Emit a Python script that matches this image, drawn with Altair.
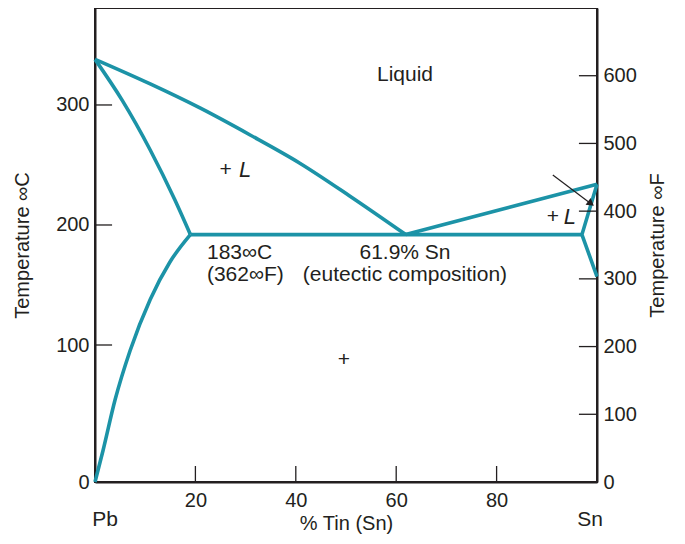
import altair as alt
import pandas as pd

TEAL = "#1c93a7"
INK = "#231f20"
FONT = "Liberation Sans"

# ---- phase boundary curves (x = % Sn, t = temperature in C) ----
liq_left_x = [0, 11.0, 20.9, 30.9, 40.8, 50.8, 61.9]
liq_left_t = [338, 317.5, 297.5, 275, 251.5, 224, 192]
sol_left_x = [0, 5.4, 11.0, 15.9, 19.0]
sol_left_t = [338, 304, 262.5, 221, 192]
solvus_left_x = [0, 1.6, 4.0, 7.0, 11.0, 14.9, 19.0]
solvus_left_t = [0, 23, 60, 96, 138, 169, 192]
eutectic_x = [19.0, 97.0]
eutectic_t = [192, 192]
liq_right_x = [61.9, 100]
liq_right_t = [192, 234]
sol_right_x = [100, 97.0, 100]
sol_right_t = [234, 192, 157]

curved = {
    "liq_left": (liq_left_x, liq_left_t),
    "sol_left": (sol_left_x, sol_left_t),
    "solvus_left": (solvus_left_x, solvus_left_t),
}
straight = {
    "eutectic": (eutectic_x, eutectic_t),
    "liq_right": (liq_right_x, liq_right_t),
    "sol_right": (sol_right_x, sol_right_t),
}

# ---- annotations ----
label_text = ["Liquid", "+", "183∞C", "(362∞F)", "61.9% Sn", "(eutectic composition)", "+", "+", "Pb", "Sn"]
label_x = [61.75, 26.0, 22.3, 22.3, 61.75, 61.75, 49.6, 91.2, 2.0, 98.6]
label_t = [325, 246, 177, 158, 177, 158, 89, 207, -27.5, -27.5]
label_align = ["center", "center", "left", "left", "center", "center", "center", "center", "center", "center"]

italic_text = ["L", "L"]
italic_x = [29.9, 94.6]
italic_t = [246, 207]

arrow_x = [91.2, 98.6]
arrow_t = [241.7, 218.3]
arrow_head_x = [98.8]
arrow_head_t = [217.8]

# axis tick values
x_ticks = [20, 40, 60, 80]
c_ticks = [0, 100, 200, 300]
f_ticks = [0, 100, 200, 300, 400, 500, 600]


def to_df(d):
    rows = []
    for name, (xs, ts) in d.items():
        for i, (xv, tv) in enumerate(zip(xs, ts)):
            rows.append({"seg": name, "x": xv, "t": tv, "o": i})
    return pd.DataFrame(rows)


curved_df = to_df(curved)
straight_df = to_df(straight)

lab_df = pd.DataFrame({"text": label_text, "x": label_x, "t": label_t, "align": label_align})
ital_df = pd.DataFrame({"text": italic_text, "x": italic_x, "t": italic_t})
arrow_df = pd.DataFrame({"x": arrow_x, "t": arrow_t, "o": [0, 1]})
head_df = pd.DataFrame({"x": arrow_head_x, "t": arrow_head_t})

xscale = alt.Scale(domain=[0, 100], nice=False, zero=False)
yscale = alt.Scale(domain=[0, 100, 380.8], range=[474, 337, 0], nice=False, zero=False)
fscale = alt.Scale(domain=[0, 700], nice=False, zero=False)

x_axis = alt.Axis(values=x_ticks, ticks=False, grid=False, labelPadding=8,
                  title="% Tin (Sn)", titlePadding=3)
y_axis = alt.Axis(values=c_ticks, ticks=False, grid=False, labelPadding=6,
                  title="Temperature ∞C", titlePadding=23)
f_axis = alt.Axis(orient="right", values=f_ticks, ticks=False, grid=False, labelPadding=6,
                  title="Temperature ∞F", titleAngle=270, titlePadding=31)

X = alt.X("x:Q", scale=xscale, axis=x_axis)
Y = alt.Y("t:Q", scale=yscale, axis=y_axis)

lines_c = alt.Chart(curved_df).mark_line(color=TEAL, strokeWidth=3.6, interpolate="monotone").encode(
    x=X, y=Y, detail="seg:N", order="o:Q")
lines_s = alt.Chart(straight_df).mark_line(color=TEAL, strokeWidth=3.6, strokeJoin="miter").encode(
    x=X, y=Y, detail="seg:N", order="o:Q")

texts_left = alt.Chart(lab_df[lab_df["align"] == "left"]).mark_text(
    font=FONT, fontSize=21, color=INK, align="left", baseline="middle").encode(
    x=X, y=Y, text="text:N")
texts_center = alt.Chart(lab_df[lab_df["align"] == "center"]).mark_text(
    font=FONT, fontSize=21, color=INK, align="center", baseline="middle").encode(
    x=X, y=Y, text="text:N")
texts_ital = alt.Chart(ital_df).mark_text(
    font=FONT, fontSize=22, fontStyle="italic", color=INK, align="center", baseline="middle").encode(
    x=X, y=Y, text="text:N")

arrow = alt.Chart(arrow_df).mark_line(color=INK, strokeWidth=1.2).encode(x=X, y=Y, order="o:Q")
head = alt.Chart(head_df).mark_point(shape="triangle-right", filled=True, angle=37, size=70,
                                     color=INK, opacity=1).encode(x=X, y=Y)

# inward tick marks
xt_df = pd.DataFrame({"x": x_ticks, "t": [0] * 4, "t2": [11.7] * 4})
ct_df = pd.DataFrame({"t": c_ticks[1:], "x": [0] * 3, "x2": [3.4] * 3})
ft_df = pd.DataFrame({"f": f_ticks[1:], "x": [96.4] * 6, "x2": [100] * 6})

xticks = alt.Chart(xt_df).mark_rule(color=INK, strokeWidth=1.3).encode(x=X, y=Y, y2="t2:Q")
cticks = alt.Chart(ct_df).mark_rule(color=INK, strokeWidth=1.3).encode(x=X, x2="x2:Q", y=Y)

left = alt.layer(lines_c, lines_s, arrow, head, texts_left, texts_center, texts_ital, xticks, cticks)

fticks = alt.Chart(ft_df).mark_rule(color=INK, strokeWidth=1.3).encode(
    x=alt.X("x:Q", scale=xscale, axis=x_axis), x2="x2:Q",
    y=alt.Y("f:Q", scale=fscale, axis=f_axis))

chart = alt.layer(left, fticks).resolve_scale(y="independent").resolve_axis(y="independent").properties(
    width=502, height=474, autosize="none",
    padding={"left": 87, "top": 0, "right": 72, "bottom": 54},
).configure_view(stroke=INK, strokeWidth=2).configure_axis(
    domainColor=INK, domainWidth=2, labelFont=FONT, labelFontSize=20, labelColor=INK,
    titleFont=FONT, titleFontSize=20, titleFontWeight="normal", titleColor=INK,
)

chart.save("out.html", embed_options={"renderer": "svg", "actions": False})
